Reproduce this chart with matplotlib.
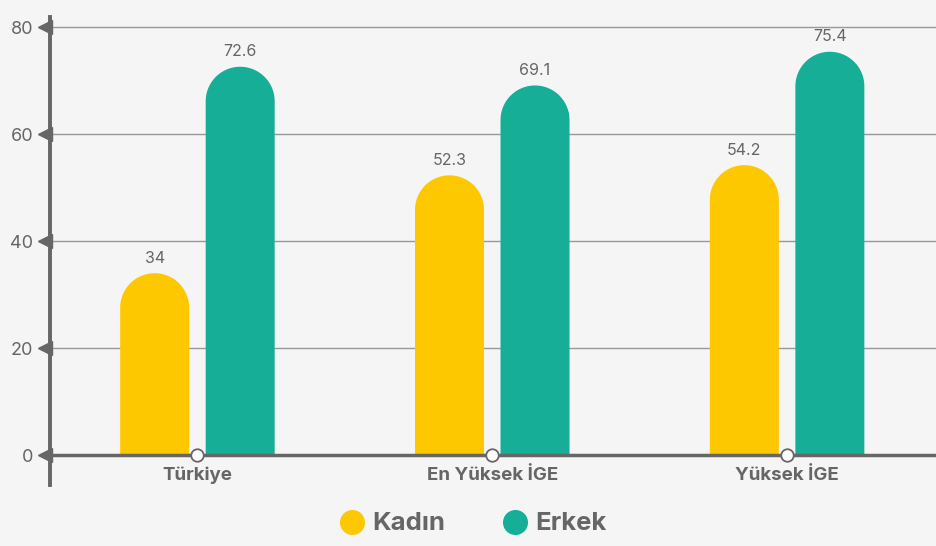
import numpy as np
import matplotlib.pyplot as plt
from matplotlib.patches import PathPatch
from matplotlib.path import Path
from matplotlib.lines import Line2D
from matplotlib.transforms import blended_transform_factory, ScaledTranslation

plt.rcParams['font.family'] = ['Inter', 'DejaVu Sans']

categories = ['Türkiye', 'En Yüksek İGE', 'Yüksek İGE']
kadin = [34, 52.3, 54.2]
erkek = [72.6, 69.1, 75.4]
yticks = [0, 20, 40, 60, 80]

YELLOW = '#FEC800'
TEAL = '#16AE96'
GRAY = '#666666'
BG = '#F5F5F5'

W, H = 936, 546
fig = plt.figure(figsize=(W / 100, H / 100), dpi=100, facecolor=BG)
# axes box in pixels: left 50, right 936, top 17, bottom 485
ax = fig.add_axes([50 / W, (H - 485) / H, (936 - 50) / W, (485 - 17) / H], facecolor=BG)

xlim = (-0.5, 2.505)
ylim = (-5.6, 81.9)
ax.set_xlim(*xlim)
ax.set_ylim(*ylim)

px_x = (936 - 50) / (xlim[1] - xlim[0])
px_y = (485 - 17) / (ylim[1] - ylim[0])

bw = 0.234
off = 0.145
rx = bw / 2
ry = rx * px_x / px_y
theta = np.linspace(0, np.pi, 60)


def rounded_bar(xc, h, color):
    # rectangle with a half-circle cap, top of the cap at the value
    yc = h - ry
    xs = np.concatenate([[xc + rx], xc + rx * np.cos(theta), [xc - rx]])
    ys = np.concatenate([[0], yc + ry * np.sin(theta), [0]])
    ax.add_patch(PathPatch(Path(np.column_stack([xs, ys]), closed=False), facecolor=color, lw=0, zorder=2))


x = np.arange(len(categories))

for vals, sign, col in [(kadin, -1, YELLOW), (erkek, 1, TEAL)]:
    xs = x + sign * off
    for xi, v in zip(xs, vals):
        rounded_bar(xi, v, col)
        ax.text(xi, v + 1.4, f'{v:g}', ha='center', va='bottom', fontsize=11.5, color=GRAY)

# grid lines
for yt in yticks[1:]:
    ax.axhline(yt, color='#999999', lw=1, zorder=1)
ax.axhline(0, color=GRAY, lw=2.5, zorder=3)

# axis spines
for s in ['top', 'right', 'bottom']:
    ax.spines[s].set_visible(False)
ax.spines['left'].set_color(GRAY)
ax.spines['left'].set_linewidth(2.8)
ax.spines['left'].set_zorder(4)

ax.set_yticks(yticks)
ax.set_yticklabels([str(t) for t in yticks], fontsize=13, color=GRAY)
ax.tick_params(axis='y', length=0, pad=12)
ax.set_xticks([])

# triangle tick markers pointing left
trans = blended_transform_factory(ax.transAxes, ax.transData) + ScaledTranslation(-5 / 100, 0, fig.dpi_scale_trans)
ax.plot([0] * len(yticks), yticks, ls='none', marker='<', markersize=10, color=GRAY,
        transform=trans, clip_on=False, zorder=5)

# circles at category positions on the x axis
ax.plot(x, [0] * len(x), ls='none', marker='o', markersize=9, markerfacecolor='white',
        markeredgecolor=GRAY, markeredgewidth=1.3, clip_on=False, zorder=6)

for xi, c in zip(x, categories):
    ax.text(xi, -2.2, c, ha='center', va='top', fontsize=13.5, fontweight='bold', color=GRAY)

handles = [Line2D([], [], ls='none', marker='o', markersize=17, color=YELLOW),
           Line2D([], [], ls='none', marker='o', markersize=17, color=TEAL)]
leg = fig.legend(handles, ['Kadın', 'Erkek'], loc='center', ncol=2, frameon=False,
                 bbox_to_anchor=(473 / W, (H - 524) / H), prop={'size': 18.5, 'weight': 'bold'},
                 handlelength=1.0, handletextpad=0.3, columnspacing=2.2)
for t in leg.get_texts():
    t.set_color(GRAY)

fig.savefig('out.png', dpi=100, facecolor=BG)
